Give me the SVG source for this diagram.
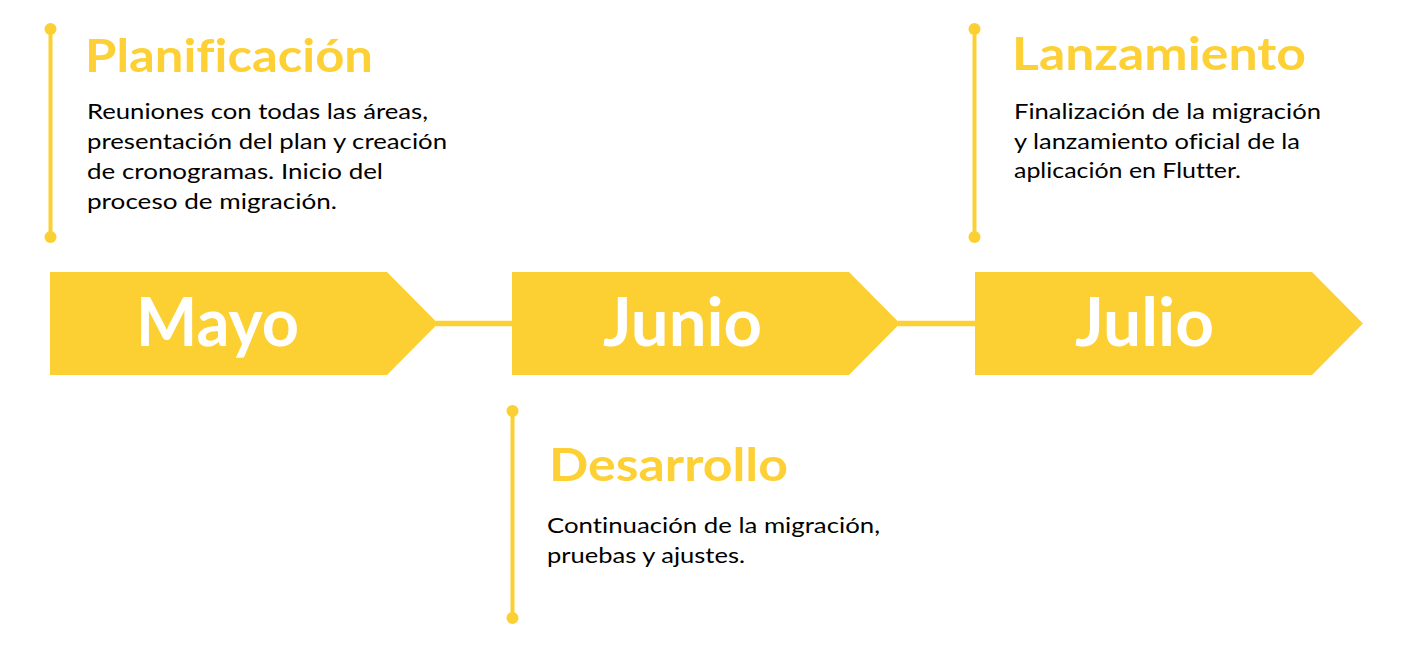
<svg xmlns="http://www.w3.org/2000/svg" width="1408" height="646" viewBox="0 0 1408 646">
<style>
text{font-variant-ligatures:none;font-feature-settings:"liga" 0}
.box{fill:#FCCF33}
.conn{stroke:#FCCF33;stroke-width:5.5;fill:none}
.vline{stroke:#FCCF33;stroke-width:4}
.dot{fill:#FCCF33}
.month{font-family:Lato,"Liberation Sans",sans-serif;font-weight:700;font-size:66px;fill:#FFFFFF}
.title{font-family:Lato,"Liberation Sans",sans-serif;font-weight:700;font-size:46px;fill:#FDD035}
.body{font-family:Lato,"Liberation Sans",sans-serif;font-weight:400;font-size:21px;fill:#000000}
</style>
<rect width="1408" height="646" fill="#FFFFFF"/>
<g id="connectors">
<line class="conn" x1="436" y1="323.5" x2="514" y2="323.5"/>
<line class="conn" x1="898" y1="323.5" x2="977" y2="323.5"/>
</g>
<g id="mayo">
<polygon class="box" points="50,272 387,272 438,323.5 387,375 50,375"/>
<text class="month" x="136" y="346" textLength="163" lengthAdjust="spacingAndGlyphs">Mayo</text>
</g>
<g id="junio">
<polygon class="box" points="512,272 849,272 900,323.5 849,375 512,375"/>
<text class="month" x="603" y="346" textLength="159" lengthAdjust="spacingAndGlyphs">Junio</text>
</g>
<g id="julio">
<polygon class="box" points="975,272 1312,272 1363,323.5 1312,375 975,375"/>
<text class="month" x="1075" y="346" textLength="139" lengthAdjust="spacingAndGlyphs">Julio</text>
</g>
<g id="planificacion">
<line class="vline" x1="50.5" y1="29" x2="50.5" y2="237"/>
<circle class="dot" cx="50.5" cy="29" r="6"/>
<circle class="dot" cx="50.5" cy="237" r="6"/>
<text class="title" x="85" y="72" textLength="288" lengthAdjust="spacingAndGlyphs">Planificación</text>
<text class="body" x="87" y="119" textLength="341" lengthAdjust="spacingAndGlyphs">Reuniones con todas las áreas,</text>
<text class="body" x="87" y="149" textLength="360" lengthAdjust="spacingAndGlyphs">presentación del plan y creación</text>
<text class="body" x="87" y="179" textLength="296" lengthAdjust="spacingAndGlyphs">de cronogramas. Inicio del</text>
<text class="body" x="87" y="208.5" textLength="250" lengthAdjust="spacingAndGlyphs">proceso de migración.</text>
</g>
<g id="desarrollo">
<line class="vline" x1="512.5" y1="411" x2="512.5" y2="618"/>
<circle class="dot" cx="512.5" cy="411" r="6"/>
<circle class="dot" cx="512.5" cy="618" r="6"/>
<text class="title" x="549" y="481" textLength="239" lengthAdjust="spacingAndGlyphs">Desarrollo</text>
<text class="body" x="547" y="533" textLength="333" lengthAdjust="spacingAndGlyphs">Continuación de la migración,</text>
<text class="body" x="547" y="563" textLength="198" lengthAdjust="spacingAndGlyphs">pruebas y ajustes.</text>
</g>
<g id="lanzamiento">
<line class="vline" x1="974.5" y1="29" x2="974.5" y2="237"/>
<circle class="dot" cx="974.5" cy="29" r="6"/>
<circle class="dot" cx="974.5" cy="237" r="6"/>
<text class="title" x="1012" y="70" textLength="294" lengthAdjust="spacingAndGlyphs">Lanzamiento</text>
<text class="body" x="1014" y="119" textLength="307" lengthAdjust="spacingAndGlyphs">Finalización de la migración</text>
<text class="body" x="1014" y="148.5" textLength="286" lengthAdjust="spacingAndGlyphs">y lanzamiento oficial de la</text>
<text class="body" x="1014" y="178" textLength="227" lengthAdjust="spacingAndGlyphs">aplicación en Flutter.</text>
</g>
</svg>
